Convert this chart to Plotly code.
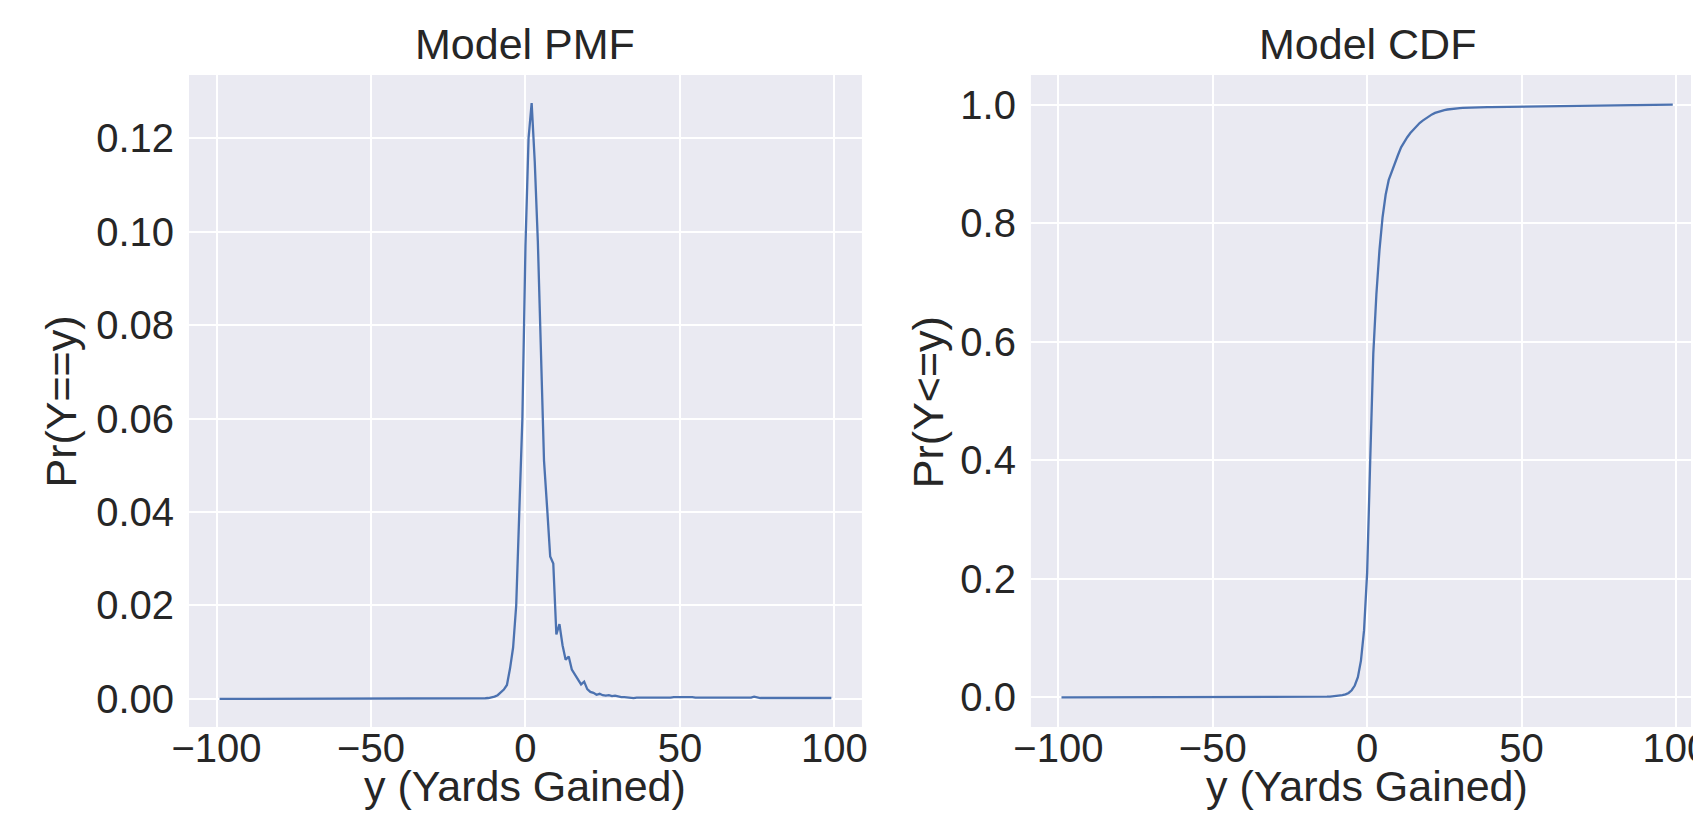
import plotly.graph_objects as go

# ---------------- data ----------------
yards = list(range(-99, 100))

# PMF, x = -99 .. -16 (flat, essentially zero)
pmf_left_tail = [
    0.0, 0.0, 0.0, 0.0, 0.0, 0.0, 0.0, 0.0, 0.0, 0.0,
    0.0, 0.0, 0.0, 0.0, 0.0, 0.0, 0.0, 0.0, 0.0, 0.0,
    0.0, 0.0, 0.0, 0.0, 0.0, 0.0, 0.0, 0.0, 0.0, 0.0,
    0.0, 0.0, 0.0, 0.0, 0.0, 0.0, 0.0, 0.0, 0.0, 0.0,
    0.0, 0.0, 0.0, 0.0, 0.0, 0.0, 0.0, 0.0, 0.0, 0.0,
    0.0, 0.0, 0.0, 0.0, 0.0, 0.0, 0.0, 0.0, 0.0, 0.0,
    0.0, 0.0, 0.0, 0.0, 0.0, 0.0, 0.0, 0.0, 0.0, 0.0,
    0.0, 0.00002, 0.00002, 0.00003, 0.00003, 0.00004, 0.00004, 0.00005, 0.00005, 0.00006,
    0.00006, 0.00007, 0.00008, 0.00009,
]
# PMF, x = -15 .. 40
pmf_core = [
    0.0001, 0.0001, 0.00015, 0.0002, 0.0003, 0.0005, 0.0008, 0.0013, 0.0020, 0.0030,
    0.0065, 0.0110, 0.0200, 0.0400, 0.0600, 0.0970, 0.1200, 0.1275, 0.1150, 0.0980,
    0.0720, 0.0510, 0.0410, 0.0305, 0.0290, 0.0138, 0.0160, 0.0115, 0.0084, 0.0091,
    0.0063, 0.0053, 0.0043, 0.0031, 0.0037, 0.0021, 0.0015, 0.0013, 0.0009, 0.0011,
    0.0008, 0.0007, 0.0008, 0.0006, 0.0007, 0.0005, 0.0004, 0.0004, 0.0003, 0.0003,
    0.0002, 0.0003, 0.0003, 0.0002, 0.0003, 0.0003,
]
# PMF, x = 41 .. 99
pmf_right_tail = [
    0.0003, 0.0003, 0.0002, 0.0003, 0.0003, 0.0002, 0.0003, 0.0004, 0.0004, 0.0005,
    0.0004, 0.0004, 0.0005, 0.0004, 0.0003, 0.0003, 0.0003, 0.0002, 0.0002, 0.0003,
    0.0002, 0.0002, 0.0002, 0.0003, 0.0002, 0.0002, 0.0002, 0.0002, 0.0002, 0.0002,
    0.0002, 0.0002, 0.0003, 0.0005, 0.0003, 0.0002, 0.0002, 0.0002, 0.0002, 0.0002,
    0.0002, 0.0002, 0.0002, 0.0002, 0.0002, 0.0002, 0.0002, 0.0002, 0.0002, 0.0002,
    0.0002, 0.0002, 0.0002, 0.0002, 0.0002, 0.0002, 0.0002, 0.0002, 0.0002,
]
pmf = pmf_left_tail + pmf_core + pmf_right_tail

# CDF, x = -99 .. -16
cdf_left_tail = [
    0.0, 0.0, 0.0, 0.0, 0.0, 0.0, 0.0, 0.0, 0.0, 0.0,
    0.0, 0.0, 0.0, 0.0, 0.0, 0.0, 0.0, 0.0, 0.0, 0.0,
    0.0, 0.0, 0.0, 0.0, 0.0, 0.0, 0.0, 0.0, 0.0, 0.0,
    0.0, 0.0, 0.0, 0.0, 0.0, 0.0, 0.0, 0.0, 0.0, 0.0,
    0.0, 0.0, 0.0, 0.0, 0.0, 0.0, 0.0, 0.0, 0.0, 0.0,
    0.0, 0.0, 0.0, 0.0, 0.0, 0.0, 0.0, 0.0, 0.0, 0.0,
    0.0001, 0.0001, 0.0001, 0.0001, 0.0001, 0.0001, 0.0001, 0.0001, 0.0001, 0.0001,
    0.0002, 0.0002, 0.0002, 0.0002, 0.0002, 0.0003, 0.0003, 0.0003, 0.0004, 0.0004,
    0.0005, 0.0005, 0.0006, 0.0007,
]
# CDF, x = -15 .. 40
cdf_core = [
    0.0008, 0.0009, 0.0011, 0.0013, 0.0016, 0.0020, 0.0027, 0.0036, 0.0050, 0.0075,
    0.0120, 0.0200, 0.0340, 0.0620, 0.1130, 0.2100, 0.4000, 0.5800, 0.6800, 0.7550,
    0.8100, 0.8480, 0.8730, 0.8880, 0.9010, 0.9150, 0.9280, 0.9370, 0.9450, 0.9520,
    0.9580, 0.9640, 0.9690, 0.9730, 0.9770, 0.9805, 0.9835, 0.9860, 0.9880, 0.9895,
    0.9908, 0.9918, 0.9926, 0.9933, 0.9938, 0.9942, 0.9945, 0.9948, 0.9950, 0.9952,
    0.9953, 0.9954, 0.9955, 0.9956, 0.9957, 0.9958,
]
# CDF, x = 41 .. 99
cdf_right_tail = [
    0.9959, 0.9960, 0.9961, 0.9962, 0.9963, 0.9964, 0.9965, 0.9966, 0.9967, 0.9968,
    0.9969, 0.9970, 0.9971, 0.9972, 0.9973, 0.9974, 0.9975, 0.9975, 0.9976, 0.9977,
    0.9977, 0.9978, 0.9979, 0.9979, 0.9980, 0.9981, 0.9981, 0.9982, 0.9983, 0.9983,
    0.9984, 0.9984, 0.9985, 0.9986, 0.9986, 0.9987, 0.9987, 0.9988, 0.9988, 0.9989,
    0.9989, 0.9990, 0.9990, 0.9991, 0.9991, 0.9992, 0.9992, 0.9993, 0.9993, 0.9994,
    0.9994, 0.9995, 0.9995, 0.9996, 0.9996, 0.9997, 0.9998, 0.9999, 1.0000,
]
cdf = cdf_left_tail + cdf_core + cdf_right_tail

x_ticks = [-100, -50, 0, 50, 100]
pmf_ticks = [0.00, 0.02, 0.04, 0.06, 0.08, 0.10, 0.12]
cdf_ticks = [0.0, 0.2, 0.4, 0.6, 0.8, 1.0]

titles = ["Model PMF", "Model CDF"]
x_title = "y (Yards Gained)"
y_titles = ["Pr(Y==y)", "Pr(Y<=y)"]

# ---------------- style ----------------
FONT = "Liberation Sans, Arial, Helvetica, sans-serif"
TXT = "#262626"
BG = "#EAEAF2"
LINE = "#4C72B0"
W, H = 1701, 817
ML, MT, MB = 181, 67, 98
PW = W - ML
PH = H - MT - MB


def px_x(p):
    return (p - ML) / PW


def px_y(p):
    return (H - MB - p) / PH


fig = go.Figure()
fig.add_trace(go.Scatter(x=yards, y=pmf, mode="lines",
                         line=dict(color=LINE, width=2.3), xaxis="x", yaxis="y",
                         showlegend=False))
fig.add_trace(go.Scatter(x=yards, y=cdf, mode="lines",
                         line=dict(color=LINE, width=2.3), xaxis="x2", yaxis="y2",
                         showlegend=False))

axis_common = dict(showgrid=True, gridcolor="white", gridwidth=1.6,
                   zeroline=False, showline=False, ticks="",
                   ticklabeloverflow="allow",
                   tickfont=dict(family=FONT, size=40, color=TXT))

d1 = [0.0, px_x(862)]
d2 = [px_x(1033), 1.0]

fig.update_layout(
    width=W, height=H, autosize=False,
    margin=dict(l=ML, r=0, t=MT, b=MB, pad=0),
    paper_bgcolor="white", plot_bgcolor=BG,
    xaxis=dict(domain=d1, range=[-108.9, 108.9], tickvals=x_ticks,
               ticklabelstandoff=-6, anchor="y", **axis_common),
    yaxis=dict(domain=[0, 1], range=[-0.0060, 0.1335], tickvals=pmf_ticks,
               tickformat=".2f", ticklabelstandoff=14, anchor="x", **axis_common),
    xaxis2=dict(domain=d2, range=[-108.9, 104.9], tickvals=x_ticks,
                ticklabelstandoff=-6, anchor="y2", **axis_common),
    yaxis2=dict(domain=[0, 1], range=[-0.05, 1.05], tickvals=cdf_ticks,
                tickformat=".1f", ticklabelstandoff=14, anchor="x2", **axis_common),
    font=dict(family=FONT, color=TXT),
)

ann = []
centers = [(181 + 862) / 2, (1033 + 1714) / 2]
for i in range(2):
    ann.append(dict(text=titles[i], xref="paper", yref="paper",
                    x=px_x(centers[i]), y=px_y(36), xanchor="center", yanchor="middle",
                    showarrow=False, font=dict(family=FONT, size=43, color=TXT)))
    ann.append(dict(text=x_title, xref="paper", yref="paper",
                    x=px_x(centers[i]), y=px_y(778), xanchor="center", yanchor="middle",
                    showarrow=False, font=dict(family=FONT, size=43, color=TXT)))
ylab_x = [51, 929]
for i in range(2):
    ann.append(dict(text=y_titles[i], xref="paper", yref="paper",
                    x=px_x(ylab_x[i]), y=px_y(394), xanchor="center", yanchor="middle",
                    textangle=-90, showarrow=False,
                    font=dict(family=FONT, size=43, color=TXT)))
fig.update_layout(annotations=ann)

fig.write_html("out.html")
